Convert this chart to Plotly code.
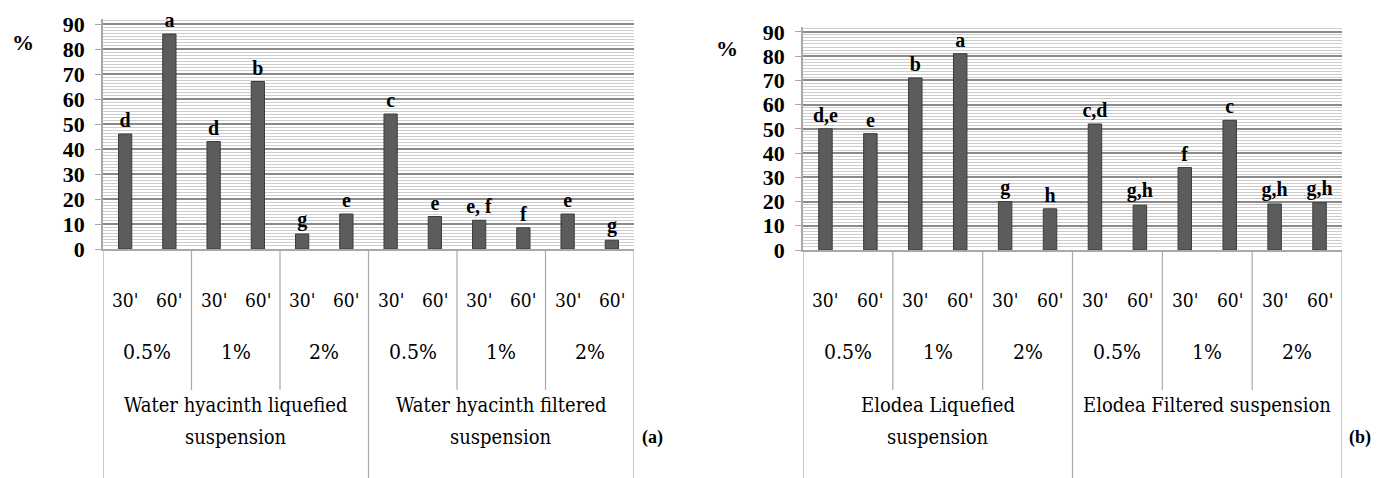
import plotly.graph_objects as go

# ---------------- data ----------------
times = ["30'", "60'"] * 6
concentrations = ["0.5%", "1%", "2%", "0.5%", "1%", "2%"]

groups_a = [["Water hyacinth liquefied", "suspension"],
            ["Water hyacinth filtered", "suspension"]]
values_a = [46, 86, 43, 67, 6, 14, 54, 13, 11.5, 8.5, 14, 3.5]
letters_a = ["d", "a", "d", "b", "g", "e", "c", "e", "e, f", "f", "e", "g"]

groups_b = [["Elodea Liquefied", "suspension"],
            ["Elodea Filtered suspension"]]
values_b = [50, 48, 71, 81, 20, 17, 52, 18.5, 34, 53.5, 19, 19.5]
letters_b = ["d,e", "e", "b", "a", "g", "h", "c,d", "g,h", "f", "c", "g,h", "g,h"]

y_ticks = [0, 10, 20, 30, 40, 50, 60, 70, 80, 90]

# ---------------- styling / layout helpers ----------------
OFF = 8  # page body margin
W, H = 1382 - 2 * OFF, 478 - OFF
SERIF = "Liberation Serif"
LABEL = "DejaVu Serif Condensed, DejaVu Serif, serif"
BAR = "#5c5c5c"
BAR_LINE = "#3c3c3c"
GRID = "#8a8a8a"
MINOR = "#cdcdcd"
TABLE = "#a8a8a8"


def py(pixel_y):
    return 1 - (pixel_y - OFF) / H


def px(pixel_x):
    return (pixel_x - OFF) / W


panels = [
    dict(vals=values_a, letters=letters_a, groups=groups_a, xa="x", ya="y",
         xdom=[px(103), px(634)], ybot=249, ytop=19, pct=(23, 42), tag="(a)", tagx=652),
    dict(vals=values_b, letters=letters_b, groups=groups_b, xa="x2", ya="y2",
         xdom=[px(803), px(1342)], ybot=250, ytop=27, pct=(727, 48), tag="(b)", tagx=1360),
]

fig = go.Figure()
annotations = []
shapes = []
n = len(times)
xs = list(range(n))


def label_font(size):
    return dict(family=LABEL, size=size, color="black")


for i, p in enumerate(panels):
    fig.add_trace(go.Bar(
        x=xs, y=p["vals"], text=p["letters"], textposition="outside",
        constraintext="none", cliponaxis=False, width=0.3,
        marker=dict(color=BAR, line=dict(color=BAR_LINE, width=1)),
        textfont=dict(family=SERIF, size=20, color="black", weight=700),
        xaxis=p["xa"], yaxis=p["ya"], showlegend=False, hoverinfo="skip",
    ))
    sfx = "" if i == 0 else "2"
    fig.update_layout(**{
        "xaxis" + sfx: dict(domain=p["xdom"], range=[-0.5, n - 0.5], showticklabels=False,
                            showgrid=False, zeroline=False, showline=True, automargin=False,
                            linecolor=TABLE, linewidth=1.5, anchor="y" + sfx, fixedrange=True),
        "yaxis" + sfx: dict(domain=[py(p["ybot"]), py(p["ytop"])], range=[0, 92],
                            tickvals=y_ticks, showgrid=True, gridcolor=GRID, gridwidth=1.5,
                            minor=dict(dtick=1.25, showgrid=True, gridcolor=MINOR, gridwidth=1),
                            zeroline=False, showline=True, linecolor=TABLE, linewidth=1.5,
                            ticks="outside", ticklen=6, tickcolor=TABLE, automargin=False,
                            ticklabelstandoff=6,
                            tickfont=dict(family=SERIF, size=22, color="black", weight=700),
                            anchor="x" + sfx, fixedrange=True),
    })
    xref = p["xa"]
    ybottom = py(p["ybot"])
    common = dict(xref=xref, yref="paper", showarrow=False, xanchor="center", yanchor="middle")
    for k, t in enumerate(times):
        annotations.append(dict(x=k, y=py(300), text=t, font=label_font(19), **common))
    for j, c in enumerate(concentrations):
        annotations.append(dict(x=2 * j + 0.5, y=py(352), text=c, font=label_font(21), **common))
    for g, lines in enumerate(p["groups"]):
        for L, line in enumerate(lines):
            annotations.append(dict(x=6 * g + 2.5, y=py(405 + 32 * L), text=line,
                                    font=label_font(20), **common))
    for b in range(0, n + 1, 2):
        full = b % 6 == 0
        shapes.append(dict(type="line", xref=xref, yref="paper", x0=b - 0.5, x1=b - 0.5,
                           y0=ybottom, y1=0 if full else py(390),
                           line=dict(color=TABLE, width=1.2)))
    pcommon = dict(xref="paper", yref="paper", showarrow=False, xanchor="center", yanchor="middle")
    annotations.append(dict(x=px(p["pct"][0]), y=py(p["pct"][1]), text="%",
                            font=dict(family=SERIF, size=22, color="black", weight=700), **pcommon))
    annotations.append(dict(x=px(p["tagx"]), y=py(437), text=p["tag"],
                            font=dict(family=SERIF, size=18, color="black", weight=700), **pcommon))

fig.update_layout(
    width=W, height=H, autosize=False,
    margin=dict(l=0, r=0, t=0, b=0, pad=0, autoexpand=False),
    paper_bgcolor="white", plot_bgcolor="white",
    annotations=annotations, shapes=shapes,
    bargap=0.7,
)

fig.write_html("out.html")
